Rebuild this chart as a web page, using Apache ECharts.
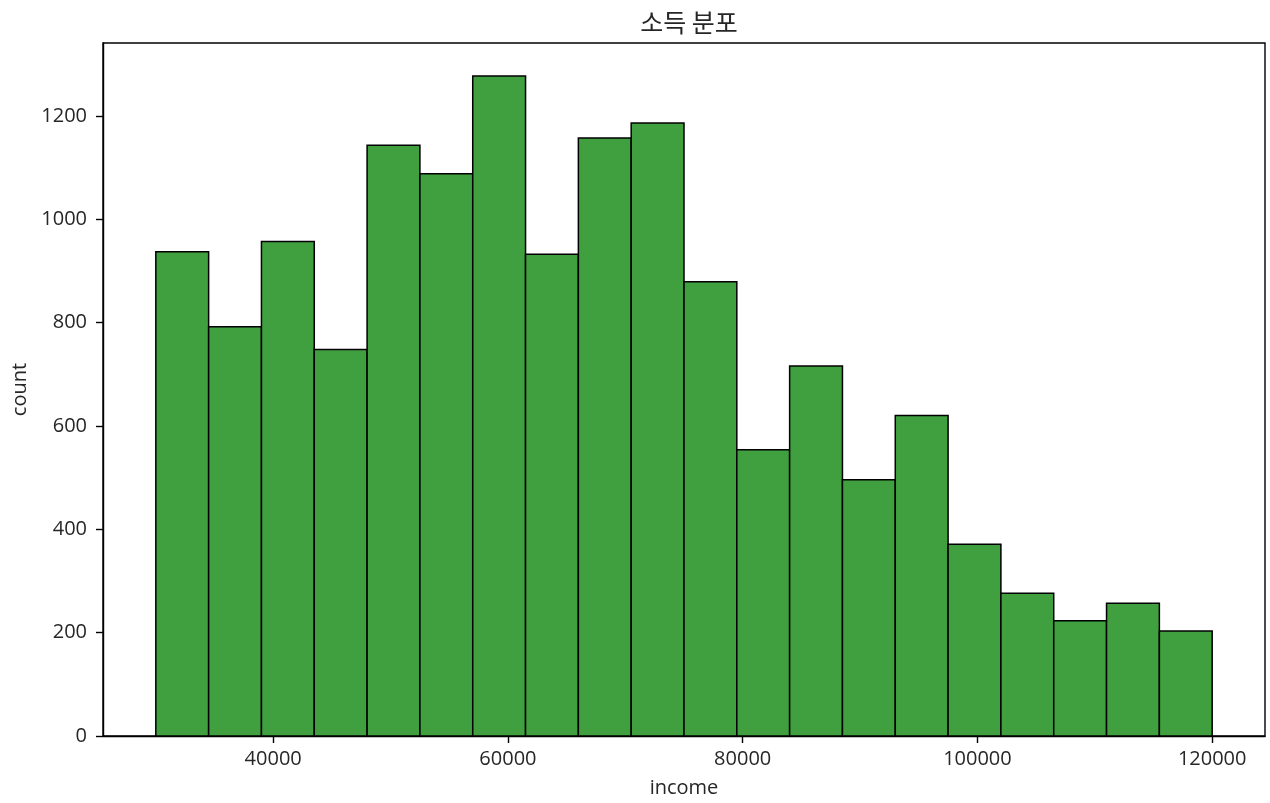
<!DOCTYPE html>
<html>
<head>
<meta charset="utf-8">
<script src="https://cdn.jsdelivr.net/npm/echarts@6/dist/echarts.min.js"></script>
<style>
html,body{margin:0;padding:0;background:#fff;}
#chart{width:1270px;height:803px;}
</style>
</head>
<body>
<div id="chart"></div>
<script>
const chartTitle = '소득 분포';
const xName = 'income';
const yName = 'count';
const binEdges = [30000, 34500, 39000, 43500, 48000, 52500, 57000, 61500, 66000, 70500, 75000,
                  79500, 84000, 88500, 93000, 97500, 102000, 106500, 111000, 115500, 120000];
const counts = [937, 792, 957, 748, 1143, 1088, 1277, 932, 1157, 1186,
                879, 554, 716, 496, 620, 371, 276, 223, 257, 203];
const xTicks = [40000, 60000, 80000, 100000, 120000];
const yTicks = [0, 200, 400, 600, 800, 1000, 1200];

const data = counts.map((c, i) => [binEdges[i], binEdges[i + 1], c]);

const chart = echarts.init(document.getElementById('chart'), null, {renderer: 'canvas'});
const font = "'Open Sans', 'Noto Sans CJK KR', sans-serif";
const txt = '#262626';
chart.setOption({
  animation: false,
  backgroundColor: '#fff',
  title: {
    text: chartTitle, left: 684, top: 5, textAlign: 'center',
    textStyle: {fontFamily: "'Noto Sans CJK KR', sans-serif", fontSize: 25, fontWeight: 'normal', color: txt}
  },
  grid: {left: 103, right: 5, top: 43, bottom: 67, show: true, borderColor: '#000', borderWidth: 1.4, backgroundColor: 'transparent'},
  xAxis: {
    type: 'value', min: 25500, max: 124500,
    name: xName, nameLocation: 'middle', nameGap: 42,
    nameTextStyle: {fontFamily: font, fontSize: 20, color: txt},
    axisLine: {show: true, onZero: false, lineStyle: {color: '#000', width: 1.4}},
    axisTick: {show: true, length: 7, lineStyle: {color: '#000', width: 1.4}, customValues: xTicks},
    axisLabel: {customValues: xTicks, fontFamily: font, fontSize: 20, color: txt, margin: 13,
                formatter: v => String(v)},
    splitLine: {show: false}
  },
  yAxis: {
    type: 'value', min: 0, max: 1341,
    name: yName, nameLocation: 'middle', nameGap: 73, nameRotate: 90,
    nameTextStyle: {fontFamily: font, fontSize: 20, color: txt},
    axisLine: {show: true, lineStyle: {color: '#000', width: 1.4}},
    axisTick: {show: true, length: 7, lineStyle: {color: '#000', width: 1.4}, customValues: yTicks},
    axisLabel: {customValues: yTicks, fontFamily: font, fontSize: 20, color: txt, margin: 16,
                formatter: v => String(v)},
    splitLine: {show: false}
  },
  series: [{
    type: 'custom',
    data: data,
    encode: {x: [0, 1], y: 2},
    renderItem: function (params, api) {
      const p0 = api.coord([api.value(0), api.value(2)]);
      const p1 = api.coord([api.value(1), 0]);
      return {
        type: 'rect',
        shape: {x: p0[0], y: p0[1], width: p1[0] - p0[0], height: p1[1] - p0[1]},
        style: {fill: '#40a040', stroke: '#000', lineWidth: 1.5}
      };
    }
  }]
});
</script>
</body>
</html>
